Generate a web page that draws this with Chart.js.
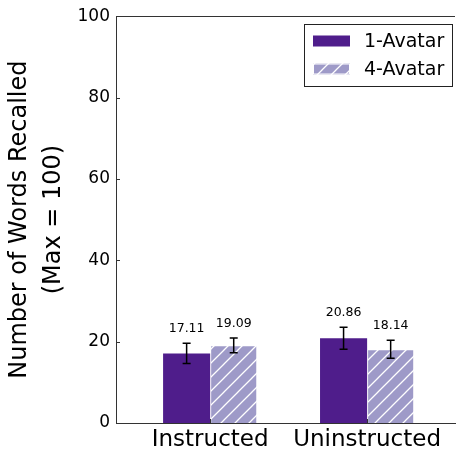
<!DOCTYPE html>
<html>
<head>
<meta charset="utf-8">
<script src="https://cdn.jsdelivr.net/npm/chart.js@4.4.1/dist/chart.umd.min.js"></script>
<style>
  html, body { margin: 0; padding: 0; background: #fff; }
  #wrap { width: 459px; height: 450px; }
</style>
</head>
<body>
<div id="wrap"><canvas id="chart"></canvas></div>
<script>
const categories = ['Instructed', 'Uninstructed'];
const seriesNames = ['1-Avatar', '4-Avatar'];
const oneAvatar = [17.11, 20.86];
const fourAvatar = [19.09, 18.14];
const oneAvatarErr = [2.5, 2.7];
const fourAvatarErr = [1.8, 2.2];
const yTicks = [0, 20, 40, 60, 80, 100];

const DARK = '#4f1d8b';
const LIGHT = '#9e9ac8';
const AXIS = '#333';
const FONT = "'DejaVu Sans', sans-serif";

const canvas = document.getElementById('chart');
const ctxMain = canvas.getContext('2d');

// white "/" hatch over the light purple
function makeHatch(color) {
    const s = 14;
    const tile = document.createElement('canvas');
    tile.width = s; tile.height = s;
    const g = tile.getContext('2d');
    g.fillStyle = color;
    g.fillRect(0, 0, s, s);
    g.strokeStyle = '#fff';
    g.lineWidth = 1.3;
    g.beginPath();
    g.moveTo(-1, s + 1); g.lineTo(s + 1, -1);
    g.moveTo(-1, 1); g.lineTo(1, -1);
    g.moveTo(s - 1, s + 1); g.lineTo(s + 1, s - 1);
    g.stroke();
    return ctxMain.createPattern(tile, 'repeat');
}
const hatchFill = makeHatch(LIGHT);

const extras = {
    id: 'extras',
    afterDatasetsDraw(chart) {
        const ctx = chart.ctx;
        const { left, right, top, bottom } = chart.chartArea;
        const yScale = chart.scales.y;
        const xScale = chart.scales.x;
        ctx.save();

        // error bars + value labels
        chart.data.datasets.forEach((ds, di) => {
            const meta = chart.getDatasetMeta(di);
            meta.data.forEach((bar, i) => {
                const v = ds.data[i].y;
                const e = ds.err[i];
                const yHi = yScale.getPixelForValue(v + e);
                const yLo = yScale.getPixelForValue(v - e);
                ctx.strokeStyle = '#000';
                ctx.lineWidth = 1.5;
                ctx.beginPath();
                ctx.moveTo(bar.x, yHi); ctx.lineTo(bar.x, yLo);
                ctx.moveTo(bar.x - 4, yHi); ctx.lineTo(bar.x + 4, yHi);
                ctx.moveTo(bar.x - 4, yLo); ctx.lineTo(bar.x + 4, yLo);
                ctx.stroke();

                ctx.fillStyle = '#000';
                ctx.font = '12.5px ' + FONT;
                ctx.textAlign = 'center';
                ctx.textBaseline = 'middle';
                ctx.fillText(v.toFixed(2), bar.x, yHi - 14.5);
            });
        });

        // top spine and inward ticks
        ctx.strokeStyle = AXIS;
        ctx.lineWidth = 1;
        ctx.beginPath();
        ctx.moveTo(left, Math.round(top) + 0.5);
        ctx.lineTo(right, Math.round(top) + 0.5);
        yScale.ticks.forEach(t => {
            const y = Math.round(yScale.getPixelForValue(t.value)) + 0.5;
            ctx.moveTo(left, y); ctx.lineTo(left + 4, y);
        });
        xScale.ticks.forEach(t => {
            const x = Math.round(xScale.getPixelForValue(t.value)) + 0.5;
            ctx.moveTo(x, bottom); ctx.lineTo(x, bottom - 4);
        });
        ctx.stroke();

        // legend box
        const bx = 304, by = 24, bw = 148, bh = 62;
        ctx.fillStyle = '#fff';
        ctx.fillRect(bx, by, bw, bh);
        ctx.strokeStyle = '#222';
        ctx.strokeRect(bx + 0.5, by + 0.5, bw, bh);
        chart.data.datasets.forEach((ds, di) => {
            const cy = 41 + di * 28;
            ctx.fillStyle = ds.backgroundColor;
            ctx.fillRect(313, cy - 5.5, 37, 11);
            if (ds.borderWidth) {
                ctx.strokeStyle = ds.borderColor;
                ctx.strokeRect(313.5, cy - 5, 36, 10);
            }
            ctx.fillStyle = '#000';
            ctx.font = '19px ' + FONT;
            ctx.textAlign = 'left';
            ctx.textBaseline = 'middle';
            ctx.fillText(ds.label, 364, cy + 1);
        });
        ctx.restore();
    }
};

new Chart(canvas, {
    type: 'bar',
    data: {
        datasets: [
            {
                label: seriesNames[0],
                data: oneAvatar.map((v, i) => ({ x: i, y: v })),
                err: oneAvatarErr,
                backgroundColor: DARK,
                borderWidth: 0
            },
            {
                label: seriesNames[1],
                data: fourAvatar.map((v, i) => ({ x: i, y: v })),
                err: fourAvatarErr,
                backgroundColor: hatchFill,
                borderColor: '#fff',
                borderWidth: 1
            }
        ]
    },
    options: {
        responsive: true,
        maintainAspectRatio: false,
        animation: false,
        layout: { padding: { top: 16, right: 4, left: 0, bottom: 0 } },
        datasets: { bar: { categoryPercentage: 0.6, barPercentage: 1.0 } },
        plugins: { legend: { display: false }, tooltip: { enabled: false } },
        scales: {
            x: {
                type: 'linear',
                min: -0.6,
                max: 1.56,
                offset: false,
                afterBuildTicks: s => { s.ticks = categories.map((_, i) => ({ value: i })); },
                afterFit: s => { s.height = 27; },
                ticks: {
                    callback: v => categories[v] ?? '',
                    font: { family: FONT, size: 23 },
                    color: '#000',
                    padding: 3,
                    autoSkip: false,
                    maxRotation: 0
                },
                grid: { display: false, drawTicks: false, offset: false },
                border: { display: true, color: AXIS, width: 1 }
            },
            y: {
                min: 0,
                max: 100,
                afterBuildTicks: s => { s.ticks = yTicks.map(v => ({ value: v })); },
                afterFit: s => { s.width = 116; },
                ticks: { font: { family: FONT, size: 17 }, color: '#000', padding: 6 },
                grid: { display: false, drawTicks: false },
                border: { display: true, color: AXIS, width: 1 },
                title: {
                    display: true,
                    text: ['Number of Words Recalled', '(Max = 100)'],
                    font: { family: FONT, size: 24, lineHeight: 1.4 },
                    color: '#000',
                    padding: { top: 3, bottom: 0 }
                }
            }
        }
    },
    plugins: [extras]
});
</script>
</body>
</html>
